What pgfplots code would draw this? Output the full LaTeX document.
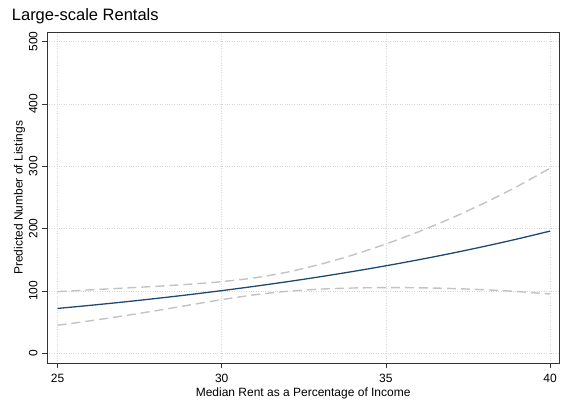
\documentclass[border=0pt]{standalone}
\usepackage{fontspec}
\setmainfont{Liberation Sans}
\usepackage{pgfplots}
\pgfplotsset{compat=1.18}
\definecolor{stblue}{RGB}{30,73,113}
\definecolor{cigray}{RGB}{195,195,195}
\definecolor{gridgray}{RGB}{215,215,215}
\begin{document}
\begin{tikzpicture}[x=1pt,y=1pt]
\useasboundingbox (0,0) rectangle (561,403);
\begin{axis}[
  at={(47pt,39.7pt)}, anchor=south west,
  scale only axis, width=512.3pt, height=331pt,
  xmin=24.68, xmax=40.28, ymin=-16, ymax=515,
  xtick={25,30,35,40}, ytick={0,100,200,300,400,500},
  grid=major, major grid style={dotted, gridgray, line width=0.7pt},
  axis line style={black!80, line width=0.9pt},
  tick style={black!80, line width=0.8pt},
  tick align=outside, major tick length=5pt,
  xtick pos=bottom, ytick pos=left,
  /pgf/number format/assume math mode=true,
  ticklabel style={font=\fontsize{12}{14}\selectfont},
  xticklabel style={anchor=base, inner sep=0pt},
  yticklabel style={rotate=90, anchor=base, inner sep=0pt},
  xticklabel shift=14.4pt, yticklabel shift=4.7pt,
  title={Large-scale Rentals},
  title style={at={(axis description cs:-0.0689,1.019)}, anchor=base west, inner sep=0pt, font=\fontsize{16.5}{19}\selectfont},
  xlabel={Median Rent as a Percentage of Income},
  xlabel style={at={(axis description cs:0.5,-0.0988)}, anchor=base, inner sep=0pt, font=\fontsize{12}{14}\selectfont},
  ylabel={Predicted Number of Listings},
  ylabel style={at={(axis description cs:-0.0478,0.5)}, anchor=base, inner sep=0pt, font=\fontsize{12}{14}\selectfont},
]
\addplot[cigray, line width=1.4pt, dash pattern=on 9pt off 5pt, smooth] coordinates {
(25,99.0) (26,101.8) (27,104.6) (28,107.5) (29,110.8) (30,115.0) (31,121.1) (32,130.3)
(33,142.8) (34,157.9) (35,175.4) (36,195.1) (37,217.0) (38,241.2) (39,267.8) (40,297.0)};
\addplot[cigray, line width=1.4pt, dash pattern=on 9pt off 5pt, smooth] coordinates {
(25,45.0) (26,52.2) (27,60.0) (28,68.4) (29,77.3) (30,86.1) (31,93.9) (32,99.5)
(33,103.0) (34,104.8) (35,105.4) (36,105.1) (37,104.0) (38,102.0) (39,99.1) (40,95.2)};
\addplot[stblue, line width=1.3pt, smooth] coordinates {
(25,72.0) (26,76.97) (27,82.29) (28,87.98) (29,94.05) (30,100.55) (31,107.50) (32,114.92)
(33,122.86) (34,131.35) (35,140.42) (36,150.12) (37,160.49) (38,171.58) (39,183.43) (40,196.1)};
\end{axis}
\end{tikzpicture}
\end{document}
